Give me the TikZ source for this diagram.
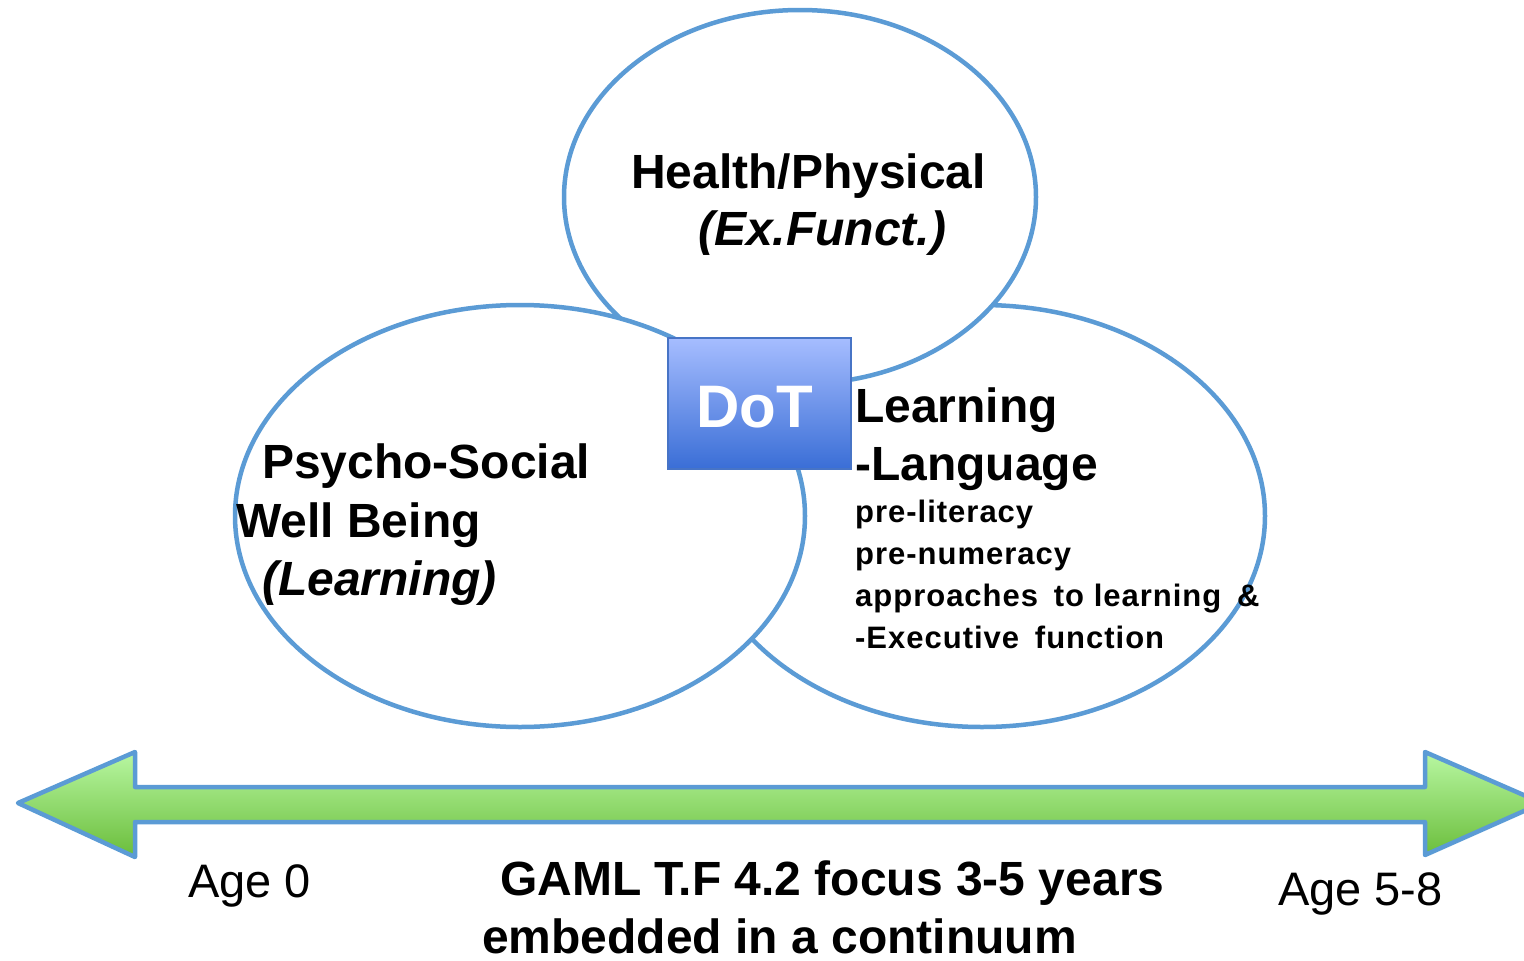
\documentclass[tikz,border=0pt]{standalone}
\usepackage{fontspec}
\setmainfont{Liberation Sans}
\definecolor{edge}{HTML}{5B9BD5}
\definecolor{gtop}{HTML}{B8F7A2}
\definecolor{gbot}{HTML}{6ABD3A}
\definecolor{btop}{HTML}{A6BDFF}
\definecolor{bbot}{HTML}{3A6ED6}
\definecolor{bedge}{HTML}{4774C6}
\begin{document}
\begin{tikzpicture}[x=1pt,y=-1pt,
  circ/.style={draw=edge,line width=4.5pt,fill=white},
  big/.style={anchor=base west,inner sep=0pt,font=\fontsize{48}{58}\selectfont\bfseries},
  bigit/.style={big,font=\fontsize{48}{58}\selectfont\bfseries\itshape},
  small/.style={anchor=base west,inner sep=0pt,font=\fontsize{31}{38}\selectfont\bfseries\addfontfeature{LetterSpace=3.2}},
  agetxt/.style={anchor=base west,inner sep=0pt,font=\fontsize{47}{56}\selectfont}]
\useasboundingbox (0,0) rectangle (1524,961);
\clip (0,0) rectangle (1524,961);
% ellipses: right, top, left
\path[circ] (982,516) ellipse [x radius=283, y radius=211];
\path[circ] (800,197) ellipse [x radius=236, y radius=187];
\path[circ] (520,516) ellipse [x radius=285, y radius=211];
% DoT box
\node[draw=bedge,line width=1.5pt,top color=btop,bottom color=bbot,minimum width=183pt,minimum height=131pt,inner sep=0pt,anchor=north west] (dot) at (667,337) {};
\node[anchor=base west,inner sep=0pt,font=\fontsize{60}{70}\selectfont\bfseries,text=white] (dott) at (696,427) {DoT};
% texts
\node[big] (hp) at (631,188) {Health/Physical};
\node[bigit] (ef) at (698,245) {(Ex.Funct.)};
\node[big] (ps) at (262,478) {Psycho-Social};
\node[big] (wb) at (236,537) {Well Being};
\node[bigit] (lr) at (262,595) {(Learning)};
\node[big] (le) at (855,422) {Learning};
\node[big] (la) at (855,480) {-Language};
\node[small] (l1) at (855,522) {pre-literacy};
\node[small] (l2) at (855,564) {pre-numeracy};
\node[small] (l3) at (855,606) {approaches\hspace{0.2em} to learning\hspace{0.2em} \&};
\node[small] (l4) at (855,648) {-Executive\hspace{0.2em} function};
% arrow
\path[draw=edge,line width=4.5pt,line join=round,top color=gtop,bottom color=gbot]
  (18,803) -- (135,752) -- (135,787) -- (1425,787) -- (1425,752) -- (1542,803)
  -- (1425,855) -- (1425,822) -- (135,822) -- (135,857) -- cycle;
\node[agetxt] (a0) at (188,897) {Age 0};
\node[agetxt] (a5) at (1278,905) {Age 5-8};
\node[big] (g1) at (500,895) {GAML T.F 4.2 focus 3-5 years};
\node[big] (g2) at (482,953) {embedded in a continuum};
\end{tikzpicture}
\end{document}
